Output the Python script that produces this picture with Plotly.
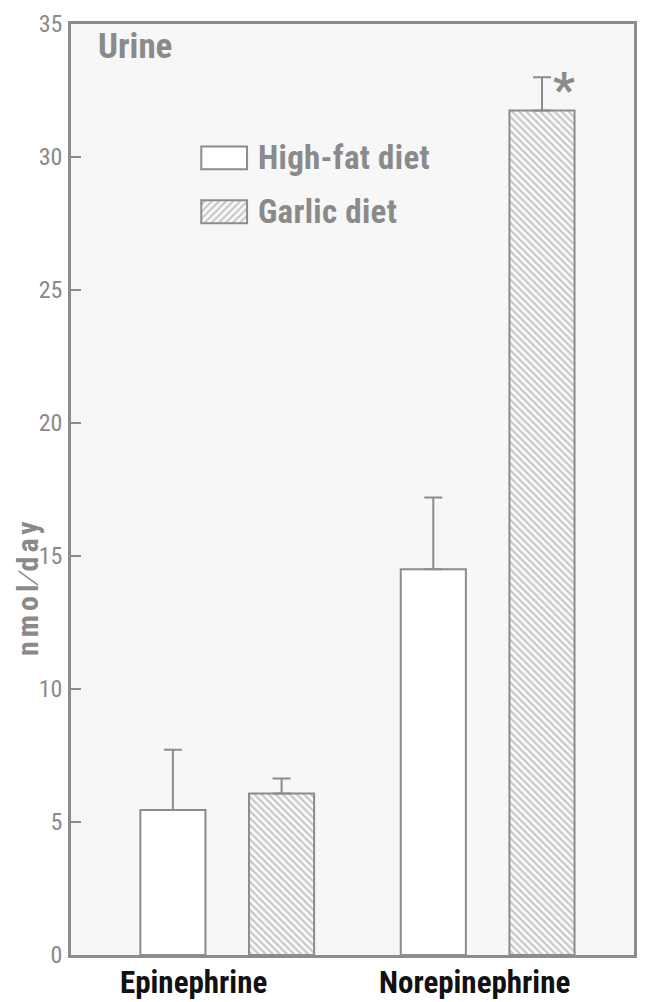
import plotly.graph_objects as go

# Urinary catecholamine excretion (nmol/day), mean with upper SE
categories = ["Epinephrine", "Norepinephrine"]
series_names = ["High-fat diet", "Garlic diet"]
high_fat = [5.45, 14.5]
high_fat_err = [2.27, 2.7]
garlic = [6.07, 31.75]
garlic_err = [0.57, 1.25]
y_ticks = [0, 5, 10, 15, 20, 25, 30, 35]

GREY = "#8c8c8c"
TEXT_GREY = "#8a8a8a"
FONT = "Roboto"


def cond(text, bold=True, spacing=None):
    """Wrap text in a condensed-width span."""
    inner = f"<b>{text}</b>" if bold else text
    extra = f";letter-spacing:{spacing}px" if spacing else ""
    return (f"<span style=\"font-family:'{FONT}';font-stretch:condensed{extra}\">"
            f"{inner}</span>")


x_pos = list(range(len(categories)))
bar_w = 0.25
half_gap = 0.2087

fig = go.Figure()

fig.add_trace(go.Bar(
    x=x_pos, y=high_fat, name=series_names[0],
    width=bar_w, offset=-half_gap - bar_w / 2,
    marker=dict(color="white", line=dict(color=GREY, width=2)),
    error_y=dict(type="data", array=high_fat_err, arrayminus=[0] * len(high_fat),
                 symmetric=False, color=GREY, thickness=2, width=9),
    showlegend=False,
))
fig.add_trace(go.Bar(
    x=x_pos, y=garlic, name=series_names[1],
    width=bar_w, offset=half_gap - bar_w / 2,
    marker=dict(color="#fafafa", line=dict(color=GREY, width=2),
                pattern=dict(shape="\\", size=5, solidity=0.45, fgcolor="#959595",
                             bgcolor="#fafafa")),
    error_y=dict(type="data", array=garlic_err, arrayminus=[0] * len(garlic),
                 symmetric=False, color=GREY, thickness=2, width=9),
    showlegend=False,
))

# Key swatches drawn on an overlay axis spanning the plot area (0..1)
key_x0, key_w = 0.2314, 0.0813
key_h = 0.0245
key_rows = [0.8439, 0.7861]
fig.add_trace(go.Bar(
    x=[key_x0], y=[key_h], base=[key_rows[0]], width=[key_w], offset=0,
    xaxis="x2", yaxis="y2", showlegend=False, hoverinfo="skip",
    marker=dict(color="white", line=dict(color=GREY, width=2)),
))
fig.add_trace(go.Bar(
    x=[key_x0], y=[key_h], base=[key_rows[1]], width=[key_w], offset=0,
    xaxis="x2", yaxis="y2", showlegend=False, hoverinfo="skip",
    marker=dict(color="#fafafa", line=dict(color=GREY, width=2),
                pattern=dict(shape="/", size=5, solidity=0.45, fgcolor="#959595",
                             bgcolor="#fafafa")),
))

annotations = []
for name, row in zip(series_names, key_rows):
    annotations.append(dict(
        text=cond(name, spacing=0.3), xref="x domain", yref="y domain",
        x=0.329, y=row + key_h / 2, xanchor="left", yanchor="middle",
        showarrow=False, font=dict(family=FONT, size=33, color=TEXT_GREY),
    ))

annotations.append(dict(
    text=cond("Urine"), xref="x domain", yref="y domain",
    x=0.045, y=1.0, xanchor="left", yanchor="top", showarrow=False,
    font=dict(family=FONT, size=35, color=TEXT_GREY),
))

annotations.append(dict(
    text=cond("nmol∕day", spacing=4), xref="paper", yref="paper",
    x=-0.077, y=0.396, xanchor="center", yanchor="middle", textangle=-90,
    showarrow=False, font=dict(family=FONT, size=30, color=TEXT_GREY),
))

for xi, cat, shift in zip(x_pos, categories, [-34, -13]):
    annotations.append(dict(
        text=cond(cat), xref="x", yref="y domain",
        x=xi, y=-0.008, xanchor="center", yanchor="top", xshift=shift,
        showarrow=False, font=dict(family=FONT, size=31, color="#111111"),
    ))

# Significance marker next to the garlic norepinephrine bar
annotations.append(dict(
    text=cond("*"), xref="x", yref="y", x=x_pos[1] + half_gap, y=garlic[1] + garlic_err[1],
    xshift=22, yshift=-12, xanchor="center", yanchor="middle", showarrow=False,
    font=dict(family=FONT, size=48, color=TEXT_GREY),
))

fig.update_layout(
    width=647, height=1002,
    margin=dict(l=71, r=10, t=20, b=47),
    paper_bgcolor="white",
    plot_bgcolor="#f7f7f7",
    barmode="group",
    showlegend=False,
    annotations=annotations,
    xaxis=dict(
        range=[-0.6, 1.562], showticklabels=False, ticks="",
        showgrid=False, zeroline=False,
        showline=True, linecolor=GREY, linewidth=2.5, mirror=True,
    ),
    yaxis=dict(
        range=[0, 35], tickvals=y_ticks,
        ticktext=[cond(str(v), bold=False) for v in y_ticks],
        ticks="inside", ticklen=10,
        tickwidth=2, tickcolor=GREY, showgrid=False, zeroline=False,
        showline=True, linecolor=GREY, linewidth=2.5, mirror=True,
        tickfont=dict(family=FONT, size=24, color=TEXT_GREY),
        ticklabelstandoff=1,
    ),
    xaxis2=dict(range=[0, 1], overlaying="x", visible=False, fixedrange=True),
    yaxis2=dict(range=[0, 1], overlaying="y", visible=False, fixedrange=True),
)

fig.write_html("out.html")
